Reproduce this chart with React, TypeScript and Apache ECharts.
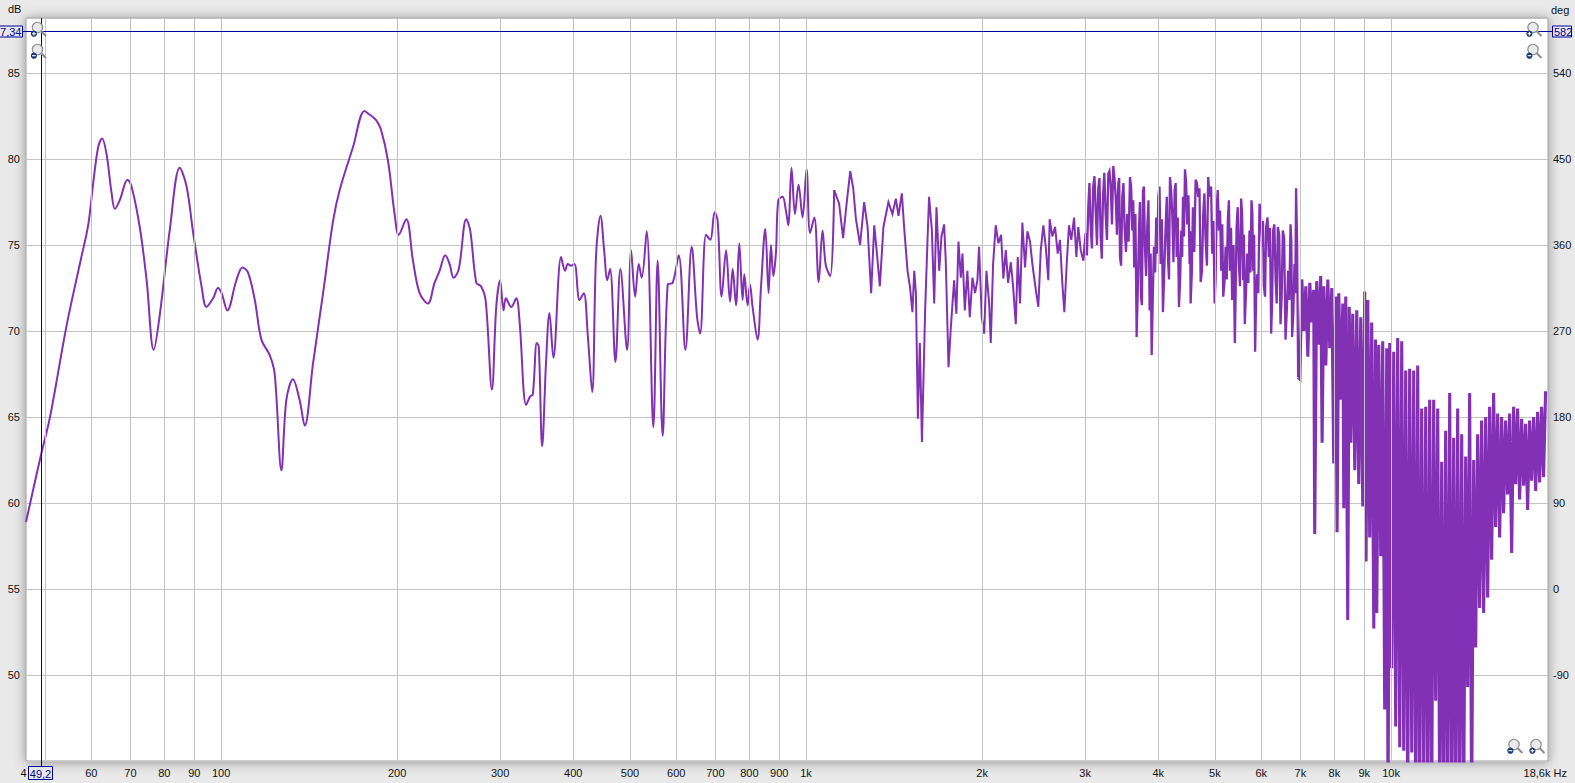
import React, { useEffect, useRef } from "react";
import * as echarts from "echarts";

// Frequency response, [Hz, dB]
const lowResponse: [number, number][] = [
  [46.4, 58.9], [49.3, 62.9], [51.0, 65.0], [54.5, 70.4], [57.7, 74.3], [59.3, 76.2],
  [60.45, 78.6], [61.65, 80.7], [62.6, 81.2], [63.7, 80.3], [65.0, 78.0], [65.85, 77.1],
  [67.1, 77.6], [69.2, 78.8], [70.3, 78.4], [72.6, 76.05], [74.6, 72.95], [76.7, 68.9],
  [78.6, 71.0], [81.7, 75.85], [85.0, 79.5], [87.3, 78.4], [89.6, 75.7], [92.6, 72.6],
  [94.4, 71.4], [96.9, 71.9], [98.8, 72.5], [100.2, 72.2], [102.5, 71.2], [106.2, 72.95],
  [108.8, 73.7], [111.2, 73.4], [114.2, 71.8], [117.2, 69.5], [121.1, 68.6], [123.5, 67.5],
  [126.8, 61.9], [129.3, 66.0], [132.7, 67.2], [136.2, 66.0], [139.0, 64.5], [143.6, 68.1],
  [149.4, 72.2], [155.4, 76.4], [159.5, 78.2], [168.1, 80.7], [175.9, 82.8], [179.1, 82.6],
  [184.2, 82.25], [187.7, 81.7], [192.9, 79.9], [198.0, 76.8], [201.2, 75.6], [207.3, 76.5],
  [212.8, 74.1], [218.5, 72.2],
];

const midResponse: [number, number][] = [
  [225.7, 71.6], [231.7, 72.8], [236.3, 73.5], [241.7, 74.4], [245.8, 73.9], [249.7, 73.1],
  [254.9, 73.6], [262.5, 76.5], [266.6, 75.85], [273.1, 72.8], [278.3, 72.6], [283.3, 71.8],
  [290.4, 66.6], [295.4, 71.4], [299.9, 72.95], [304.0, 71.2], [306.8, 71.9], [313.3, 71.4],
  [319.6, 71.9], [323.7, 70.6], [332.3, 65.7], [337.6, 66.2], [341.1, 66.3], [346.5, 69.3],
  [349.2, 69.1], [353.9, 63.3], [359.5, 68.3], [364.2, 71.05], [369.9, 68.45], [381.3, 74.3],
  [387.4, 73.5], [391.4, 73.9], [396.7, 73.8], [401.9, 73.9], [410.0, 71.8], [416.9, 72.2],
  [423.5, 69.75], [430.9, 66.45], [437.7, 74.5], [445.2, 76.7], [452.2, 74.5], [457.1, 72.95],
  [462.4, 73.6], [472.2, 68.2], [481.6, 73.6], [494.4, 68.9], [502.3, 74.7], [510.3, 72.0],
  [517.6, 73.9], [523.6, 73.1], [534.0, 75.8], [548.2, 64.4], [557.6, 74.1], [568.7, 63.9],
  [580.0, 72.7], [591.6, 72.8], [605.7, 74.4], [621.9, 68.9], [637.5, 74.9], [651.2, 70.8],
  [659.0, 69.85], [674.6, 75.6], [686.1, 75.3], [697.8, 76.9], [706.1, 76.4], [717.4, 72.0],
  [729.9, 74.7], [741.3, 71.7], [749.1, 73.6], [759.0, 71.5], [768.9, 75.1], [779.0, 71.8],
  [784.2, 73.3], [794.5, 71.5], [802.0, 72.7], [810.2, 71.4], [826.3, 69.5], [837.3, 72.5],
  [851.7, 75.95], [862.8, 72.2], [871.0, 75.0], [878.9, 73.2], [888.4, 74.6], [896.4, 77.6],
  [911.7, 77.8], [923.8, 77.0], [932.3, 76.15], [944.4, 79.5], [957.2, 76.8], [970.9, 78.5],
  [986.3, 76.6], [1002, 79.4], [1016, 75.7], [1033, 76.6], [1051, 72.85], [1067, 75.85],
  [1081, 73.8], [1100, 73.2], [1117, 78.2],
];

const upperResponse: [number, number][] = [
  [1139, 77.4], [1157, 75.4], [1173, 77.4], [1190, 79.3], [1204, 78.3], [1217, 76.5],
  [1237, 75.0], [1257, 77.5], [1274, 76.05], [1292, 72.2], [1308, 76.15], [1321, 74.6],
  [1337, 72.6], [1356, 76.05], [1383, 77.5], [1405, 76.8], [1424, 77.7], [1439, 76.7],
  [1458, 78.0], [1471, 76.05], [1491, 73.5], [1505, 72.6], [1520, 71.1], [1531, 73.5],
  [1541, 72.2], [1553, 64.9], [1565, 69.3], [1578, 63.55], [1598, 71.2], [1613, 75.3],
  [1623, 77.8], [1641, 75.85], [1656, 71.6], [1671, 77.2], [1689, 73.5], [1704, 75.5],
  [1722, 76.2], [1733, 74.1], [1752, 67.9], [1768, 70.2], [1791, 72.95], [1807, 71.0],
  [1822, 75.2], [1839, 73.1], [1851, 74.5], [1868, 71.2], [1887, 73.5], [1905, 70.8],
  [1925, 73.1], [1945, 72.2], [1963, 72.95], [1976, 74.9], [1997, 70.8], [2016, 69.85],
  [2034, 73.5], [2056, 71.6], [2069, 69.3], [2088, 73.9], [2110, 76.15], [2132, 75.1],
  [2155, 75.6], [2174, 73.05], [2195, 74.7], [2215, 72.8], [2239, 74.0], [2259, 72.6],
  [2283, 70.4], [2301, 74.3], [2322, 71.6], [2343, 76.3], [2368, 73.7], [2390, 75.8],
  [2415, 75.2], [2437, 73.9], [2470, 72.4], [2495, 71.4], [2519, 74.7], [2545, 76.15],
  [2569, 74.9], [2595, 72.95], [2609, 76.5], [2636, 75.5], [2665, 76.05], [2693, 74.5],
  [2717, 75.3], [2742, 72.8], [2764, 71.1], [2790, 73.9], [2815, 76.15], [2841, 75.3],
  [2872, 76.6], [2898, 74.3], [2920, 76.05], [2948, 74.7], [2978, 74.1],
];

const bandResponse: [number, number][] = [
  [3006, 75.7], [3021, 74.4], [3037, 77.2], [3051, 78.6], [3066, 76.05], [3081, 74.8],
  [3097, 78.4], [3112, 79.0], [3127, 77.0], [3143, 75.0], [3159, 78.3], [3174, 78.9],
  [3189, 75.5], [3203, 74.2], [3218, 77.8], [3235, 79.2], [3252, 76.8], [3269, 75.3],
  [3286, 79.15], [3301, 79.3], [3317, 78.5], [3334, 76.2], [3351, 79.6], [3367, 78.9],
  [3383, 77.8], [3400, 75.6], [3418, 78.6], [3430, 78.9], [3441, 74.3], [3456, 73.8],
  [3472, 77.8], [3488, 78.6], [3505, 75.85], [3523, 74.6], [3541, 76.8], [3560, 75.2],
  [3579, 78.95], [3595, 78.4], [3611, 75.85], [3625, 77.6], [3639, 73.7], [3656, 76.8],
  [3674, 69.65], [3691, 72.5], [3708, 75.85], [3722, 77.5], [3737, 72.0], [3751, 71.5],
  [3766, 78.1], [3781, 78.4], [3796, 74.9], [3813, 73.2], [3831, 76.05], [3849, 77.6],
  [3867, 71.2], [3882, 74.5], [3898, 68.6], [3915, 72.0], [3933, 74.9], [3951, 73.4],
  [3969, 76.6], [3985, 74.5], [4001, 77.8], [4020, 78.4], [4039, 73.9], [4057, 76.5],
  [4075, 71.1], [4096, 73.5], [4118, 76.05], [4137, 77.8], [4157, 74.2], [4173, 73.0],
  [4189, 78.95], [4208, 78.2], [4227, 76.8], [4247, 74.0], [4267, 78.2], [4284, 78.6],
  [4301, 74.3], [4320, 76.6], [4340, 71.4], [4360, 73.0], [4380, 75.85], [4395, 74.3],
  [4409, 77.8], [4426, 75.5], [4444, 79.4], [4464, 78.6], [4484, 76.2], [4505, 77.9],
  [4526, 73.9], [4535, 75.8], [4544, 71.6], [4565, 73.4], [4585, 77.2], [4610, 74.6],
  [4634, 78.8], [4658, 78.6], [4682, 77.8], [4705, 78.3], [4727, 72.85], [4751, 73.5],
  [4775, 76.8], [4797, 78.0], [4820, 75.3], [4845, 73.8], [4869, 78.95], [4885, 78.2],
  [4902, 77.8], [4925, 78.4], [4947, 74.5], [4970, 76.4], [4994, 71.6], [5013, 73.0],
  [5033, 77.0], [5056, 78.2], [5079, 75.85], [5102, 77.0], [5126, 73.5], [5146, 76.2],
  [5166, 72.0], [5190, 72.8], [5215, 74.9], [5238, 73.0], [5262, 76.6], [5283, 77.6],
  [5304, 73.5], [5327, 76.0], [5351, 71.8], [5380, 75.0], [5408, 69.3], [5426, 72.4],
  [5445, 76.05], [5469, 77.2], [5494, 73.9], [5518, 72.6], [5543, 77.7], [5565, 76.8],
  [5588, 72.95], [5605, 75.6], [5623, 70.4], [5650, 72.2], [5676, 74.5], [5702, 72.8],
  [5729, 75.85], [5751, 73.4], [5774, 77.6], [5793, 76.9], [5812, 73.5], [5834, 75.6],
  [5857, 68.8], [5880, 72.0], [5903, 73.3], [5931, 72.2], [5959, 77.4], [5990, 76.8],
  [6022, 74.9], [6042, 76.4], [6062, 72.6], [6090, 72.0], [6117, 76.05], [6150, 76.6],
  [6182, 74.3], [6210, 76.0], [6239, 69.85], [6263, 71.8], [6288, 75.85], [6318, 76.2],
  [6348, 73.1], [6376, 71.6], [6405, 76.05], [6439, 75.6], [6473, 70.4], [6502, 72.0],
  [6532, 75.85], [6566, 75.4], [6601, 69.5], [6635, 71.2], [6670, 73.5], [6701, 71.8],
  [6733, 76.2], [6754, 75.2], [6775, 69.65], [6807, 71.0], [6839, 73.9], [6860, 72.2],
  [6882, 78.3], [6910, 75.0], [6938, 67.3],
];

const topResponse: [number, number][] = [
  [6985, 67.2], [7040, 73.0], [7095, 70.0], [7151, 72.6], [7207, 68.5], [7264, 72.8],
  [7321, 70.5], [7376, 72.4], [7405, 58.2], [7463, 72.9], [7522, 69.2], [7581, 73.2],
  [7624, 63.5], [7676, 72.6], [7736, 68.0], [7797, 73.0], [7858, 69.0], [7920, 72.5],
  [7982, 62.3], [8045, 72.0], [8087, 58.3], [8142, 72.2], [8206, 66.0], [8271, 71.6],
  [8303, 59.7], [8368, 72.0], [8433, 53.2], [8483, 71.4], [8534, 63.5], [8601, 71.0],
  [8670, 61.9], [8738, 71.2], [8807, 61.1], [8876, 70.8], [8948, 59.8], [9017, 72.3],
  [9064, 56.6], [9125, 71.8], [9196, 58.0], [9268, 70.5], [9344, 52.7], [9406, 69.5],
  [9454, 53.6], [9528, 69.2], [9603, 56.9], [9678, 69.4], [9754, 48.0], [9833, 69.0],
  [9883, 42.0], [9949, 69.3], [10028, 50.4], [10107, 68.8], [10186, 47.0], [10266, 69.6],
  [10349, 45.8], [10430, 69.4], [10512, 45.6], [10595, 67.7], [10678, 42.0], [10762, 67.8],
  [10849, 45.5], [10934, 67.7], [11020, 42.0], [11107, 68.0], [11194, 42.0], [11282, 65.5],
  [11374, 44.0], [11463, 65.6], [11553, 42.0], [11644, 66.0], [11736, 42.0], [11828, 66.0],
  [11921, 48.5], [12017, 65.5], [12112, 42.0], [12207, 62.4], [12303, 42.0], [12399, 64.2],
  [12497, 42.0], [12598, 66.4], [12697, 42.0], [12797, 63.8], [12897, 42.0], [12999, 65.5],
  [13101, 42.0], [13207, 64.0], [13311, 42.0], [13415, 62.7], [13521, 49.3], [13627, 66.4],
  [13734, 42.0], [13845, 62.5], [13954, 51.6], [14063, 64.0], [14174, 53.9], [14285, 64.8],
  [14398, 53.6], [14514, 65.0], [14628, 54.5], [14743, 65.6], [14859, 56.7], [14976, 66.4],
  [15093, 58.6], [15215, 65.2], [15335, 58.0], [15455, 65.0], [15577, 59.4], [15699, 64.8],
  [15823, 60.5], [15951, 65.2], [16077, 57.1], [16203, 65.6], [16331, 61.1], [16459, 65.5],
  [16588, 60.2], [16722, 64.9], [16854, 61.0], [16986, 64.6], [17120, 59.6], [17254, 64.8],
  [17390, 61.3], [17531, 65.0], [17669, 60.7], [17808, 65.3], [17947, 61.2], [18088, 65.6],
  [18231, 61.5], [18374, 66.5],
];

const gridFreqs = [50, 60, 70, 80, 90, 100, 200, 300, 400, 500, 600, 700, 800, 900,
  1000, 2000, 3000, 4000, 5000, 6000, 7000, 8000, 9000, 10000];
// "50" is hidden behind the cursor box in the reference
const gridFreqLabels = ["", "60", "70", "80", "90", "100", "200", "300", "400", "500", "600",
  "700", "800", "900", "1k", "2k", "3k", "4k", "5k", "6k", "7k", "8k", "9k", "10k"];

const freqMin = 46.4;
const freqMax = 18550;
const dbMin = 45;
const dbMax = 88.2;
const dbStep = 5;
const degMin = -180;
const degMax = 597.6;
const degStep = 90;

const cursorFreq = 49.2;
const cursorLineDb = 87.42;
const cursorFreqText = "49,2";
const cursorDbText = "7,34";
const cursorDegText = "582";
const leftEndText = "4";
const rightEndText = "18,6k Hz";

const FONT = "'Liberation Sans', Arial, sans-serif";
const PURPLE = "#8230b4";
const BLUE = "#0000a0";
const GRIDC = "#c4c4c4";
const BG = "#e9e9e9";

function magnifier(cx: number, cy: number, plus: boolean): any[] {
  const dx = cx - 3.6;
  const dy = cy + 6.2;
  const els: any[] = [
    { type: "line", shape: { x1: cx + 3.2, y1: cy + 3.2, x2: cx + 8.5, y2: cy + 8.5 }, style: { stroke: "#8c8c8c", lineWidth: 2 }, z: 50, silent: true },
    { type: "circle", shape: { cx, cy, r: 5.2 }, style: { fill: "rgba(232,232,236,0.9)", stroke: "#8f8f8f", lineWidth: 1.2 }, z: 51, silent: true },
    { type: "circle", shape: { cx: dx, cy: dy, r: 3.1 }, style: { fill: "#1d3a74" }, z: 52, silent: true },
    { type: "line", shape: { x1: dx - 1.8, y1: dy, x2: dx + 1.8, y2: dy }, style: { stroke: "#ffffff", lineWidth: 1.1 }, z: 53, silent: true },
  ];
  if (plus) {
    els.push({ type: "line", shape: { x1: dx, y1: dy - 1.8, x2: dx, y2: dy + 1.8 }, style: { stroke: "#ffffff", lineWidth: 1.1 }, z: 53, silent: true });
  }
  return els;
}

export default function App() {
  const ref = useRef<HTMLDivElement>(null);

  useEffect(() => {
    document.body.style.margin = "0";
    document.body.style.background = BG;
    const chart = echarts.init(ref.current!, null, { renderer: "svg" });
    const smoothPart = [...lowResponse, ...midResponse];
    const sharpPart = [midResponse[midResponse.length - 1], ...upperResponse];
    const bandPart = [upperResponse[upperResponse.length - 1], ...bandResponse];
    const densePart = [bandResponse[bandResponse.length - 1], ...topResponse];

    const lineSeries = (data: [number, number][], smooth: number | boolean, width: number) => ({
      type: "line",
      data,
      smooth,
      showSymbol: false,
      symbol: "none",
      silent: true,
      z: 3,
      lineStyle: { color: PURPLE, width, join: "miter" },
    });

    chart.setOption({
      animation: false,
      backgroundColor: BG,
      grid: {
        show: true,
        left: 26,
        right: 27,
        top: 18,
        bottom: 22,
        backgroundColor: "#ffffff",
        borderColor: "#9c9c9c",
        borderWidth: 1,
        shadowColor: "rgba(0,0,0,0.38)",
        shadowBlur: 12,
        shadowOffsetX: 0,
        shadowOffsetY: 1,
      },
      xAxis: {
        type: "log",
        logBase: 10,
        min: freqMin,
        max: freqMax,
        axisLine: { show: false },
        axisTick: { show: false },
        axisLabel: { show: false },
        splitLine: { show: false },
      },
      yAxis: [
        {
          type: "value",
          position: "left",
          min: dbMin,
          max: dbMax,
          interval: dbStep,
          axisLine: { show: false },
          axisTick: { show: false },
          axisLabel: {
            showMinLabel: false,
            showMaxLabel: false,
            margin: 6,
            color: "#111",
            fontSize: 11,
            fontFamily: FONT,
            formatter: (v: number) => String(v),
          },
          splitLine: { show: true, lineStyle: { color: GRIDC, width: 1 } },
        },
        {
          type: "value",
          position: "right",
          min: degMin,
          max: degMax,
          interval: degStep,
          axisLine: { show: false },
          axisTick: { show: false },
          axisLabel: {
            showMinLabel: false,
            showMaxLabel: false,
            margin: 5,
            color: "#111",
            fontSize: 11,
            fontFamily: FONT,
            formatter: (v: number) => String(v),
          },
          splitLine: { show: false },
        },
      ],
      series: [
        {
          type: "line",
          data: [],
          z: 1,
          silent: true,
          markLine: {
            silent: true,
            symbol: ["none", "none"],
            label: { show: false },
            emphasis: { disabled: true },
            lineStyle: { color: GRIDC, width: 1, type: "solid" },
            data: gridFreqs.map((f) => ({ xAxis: f })),
          },
        },
        lineSeries(smoothPart, 0.35, 2),
        lineSeries(sharpPart, false, 2),
        lineSeries(bandPart, false, 2.3),
        lineSeries(densePart, false, 3.1),
      ],
    });

    const px = (f: number) => chart.convertToPixel({ xAxisIndex: 0 }, f) as number;
    const py = (d: number) => chart.convertToPixel({ yAxisIndex: 0 }, d) as number;
    const labelY = 773;
    const textStyle = (text: string, x: number, y: number, align: string, fill = "#111") => ({
      text, x, y, fill, font: `11px ${FONT}`, textAlign: align, textVerticalAlign: "middle",
    });

    const els: any[] = [];
    gridFreqs.forEach((f, i) => {
      if (!gridFreqLabels[i]) return;
      els.push({ type: "text", z: 20, silent: true, style: textStyle(gridFreqLabels[i], px(f), labelY, "center") });
    });
    els.push({ type: "text", z: 20, silent: true, style: textStyle(leftEndText, 20.5, labelY, "left") });
    els.push({ type: "text", z: 20, silent: true, style: textStyle(rightEndText, 1567, labelY, "right") });
    els.push({ type: "text", z: 20, silent: true, style: textStyle("dB", 8, 9, "left") });
    els.push({ type: "text", z: 20, silent: true, style: textStyle("deg", 1551, 10, "left") });

    const cx = Math.round(px(cursorFreq)) + 0.5;
    const cy = Math.round(py(cursorLineDb)) + 0.5;
    els.push({ type: "line", z: 30, silent: true, shape: { x1: cx, y1: 18, x2: cx, y2: 767 }, style: { stroke: BLUE, lineWidth: 1 } });
    els.push({ type: "line", z: 30, silent: true, shape: { x1: 22, y1: cy, x2: 1553, y2: cy }, style: { stroke: BLUE, lineWidth: 1 } });

    // cursor readout boxes
    els.push({ type: "rect", z: 40, silent: true, shape: { x: 28.5, y: 766.5, width: 24, height: 13 }, style: { fill: BG, stroke: BLUE, lineWidth: 1 } });
    els.push({ type: "text", z: 41, silent: true, style: textStyle(cursorFreqText, 40.5, 773.5, "center", BLUE) });
    els.push({ type: "rect", z: 40, silent: true, shape: { x: -3.5, y: cy - 5.5, width: 26, height: 11 }, style: { fill: BG, stroke: BLUE, lineWidth: 1 } });
    els.push({ type: "text", z: 41, silent: true, style: textStyle(cursorDbText, 21.5, cy + 0.5, "right", BLUE) });
    els.push({ type: "rect", z: 40, silent: true, shape: { x: 1552.5, y: cy - 5.5, width: 19, height: 11 }, style: { fill: BG, stroke: BLUE, lineWidth: 1 } });
    els.push({ type: "text", z: 41, silent: true, style: textStyle(cursorDegText, 1554, cy + 0.5, "left", BLUE) });

    els.push(...magnifier(37.5, 27.5, true));
    els.push(...magnifier(37.5, 49.5, false));
    els.push(...magnifier(1533, 27.5, true));
    els.push(...magnifier(1533, 49.5, false));
    els.push(...magnifier(1514, 744.5, false));
    els.push(...magnifier(1536, 744.5, true));

    chart.setOption({ graphic: els });

    return () => chart.dispose();
  }, []);

  return (
    <div
      ref={ref}
      style={{ position: "fixed", left: 0, top: 0, width: 1575, height: 783, background: BG }}
    />
  );
}
